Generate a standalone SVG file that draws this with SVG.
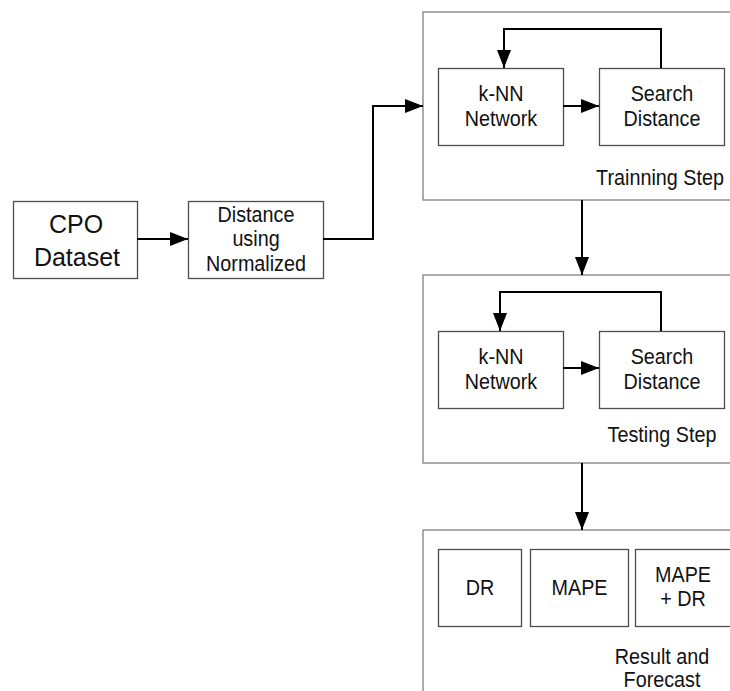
<svg xmlns="http://www.w3.org/2000/svg" width="730" height="691" viewBox="0 0 730 691">
  <style>
    .box { fill: #ffffff; stroke: #4d4d4d; stroke-width: 1.3; }
    .frame { fill: #ffffff; stroke: #808080; stroke-width: 1.3; }
    .lbl { font-family: "Liberation Sans", Arial, sans-serif; font-size: 21.5px; fill: #111111; text-anchor: middle; }
    .big { font-size: 25px; }
    .wire { fill: none; stroke: #000000; stroke-width: 2; }
  </style>
  <defs>
    <marker id="head" markerUnits="userSpaceOnUse" markerWidth="18" markerHeight="14" refX="18" refY="7" orient="auto">
      <path d="M0,0 L18,7 L0,14 Z" fill="#000000"/>
    </marker>
  </defs>

  <rect width="730" height="691" fill="#ffffff"/>

  <!-- stage frames (labels are slightly condensed horizontally) -->
  <g id="training-step">
    <rect class="frame" x="423" y="12" width="330" height="188"/>
    <text class="lbl" transform="translate(660 185) scale(0.92 1)">Trainning Step</text>
  </g>
  <g id="testing-step">
    <rect class="frame" x="423" y="275" width="330" height="188"/>
    <text class="lbl" transform="translate(662 442) scale(0.92 1)">Testing Step</text>
  </g>
  <g id="result-forecast">
    <rect class="frame" x="423" y="530" width="330" height="180"/>
    <text class="lbl" transform="translate(662 664) scale(0.92 1)">Result and</text>
    <text class="lbl" transform="translate(662 687) scale(0.92 1)">Forecast</text>
  </g>

  <!-- input nodes -->
  <g id="cpo-dataset">
    <rect class="box" x="13.5" y="201.5" width="124" height="77"/>
    <text class="lbl big" x="76" y="233">CPO</text>
    <text class="lbl big" x="77" y="266">Dataset</text>
  </g>
  <g id="distance-normalized">
    <rect class="box" x="188.5" y="201.5" width="135" height="77"/>
    <text class="lbl" transform="translate(256 222) scale(0.92 1)">Distance</text>
    <text class="lbl" transform="translate(256 246) scale(0.92 1)">using</text>
    <text class="lbl" transform="translate(256 271) scale(0.92 1)">Normalized</text>
  </g>

  <!-- training step nodes -->
  <g id="train-knn">
    <rect class="box" x="438.5" y="68.5" width="125" height="77"/>
    <text class="lbl" transform="translate(501 101) scale(0.92 1)">k-NN</text>
    <text class="lbl" transform="translate(501 126) scale(0.92 1)">Network</text>
  </g>
  <g id="train-search">
    <rect class="box" x="599.5" y="68.5" width="125" height="77"/>
    <text class="lbl" transform="translate(662 101) scale(0.92 1)">Search</text>
    <text class="lbl" transform="translate(662 126) scale(0.92 1)">Distance</text>
  </g>

  <!-- testing step nodes -->
  <g id="test-knn">
    <rect class="box" x="438.5" y="331.5" width="125" height="77"/>
    <text class="lbl" transform="translate(501 364) scale(0.92 1)">k-NN</text>
    <text class="lbl" transform="translate(501 389) scale(0.92 1)">Network</text>
  </g>
  <g id="test-search">
    <rect class="box" x="599.5" y="331.5" width="125" height="77"/>
    <text class="lbl" transform="translate(662 364) scale(0.92 1)">Search</text>
    <text class="lbl" transform="translate(662 389) scale(0.92 1)">Distance</text>
  </g>

  <!-- result nodes -->
  <g id="res-dr">
    <rect class="box" x="438.5" y="549.5" width="83" height="77"/>
    <text class="lbl" transform="translate(480 595) scale(0.92 1)">DR</text>
  </g>
  <g id="res-mape">
    <rect class="box" x="530.5" y="549.5" width="98" height="77"/>
    <text class="lbl" transform="translate(579.5 595) scale(0.92 1)">MAPE</text>
  </g>
  <g id="res-mape-dr">
    <rect class="box" x="635.5" y="549.5" width="110" height="77"/>
    <text class="lbl" transform="translate(683 582) scale(0.92 1)">MAPE</text>
    <text class="lbl" transform="translate(683 606) scale(0.92 1)">+ DR</text>
  </g>

  <!-- connectors -->
  <g id="connectors">
    <path class="wire" d="M137,239 H188" marker-end="url(#head)"/>
    <path class="wire" d="M323,239 H373 V106 H423" marker-end="url(#head)"/>
    <path class="wire" d="M563,106 H599" marker-end="url(#head)"/>
    <path class="wire" d="M661,68 V29 H504 V68" marker-end="url(#head)"/>
    <path class="wire" d="M582,200 V275" marker-end="url(#head)"/>
    <path class="wire" d="M563,368 H599" marker-end="url(#head)"/>
    <path class="wire" d="M661,331 V292 H500 V331" marker-end="url(#head)"/>
    <path class="wire" d="M582,463 V530" marker-end="url(#head)"/>
  </g>
</svg>
